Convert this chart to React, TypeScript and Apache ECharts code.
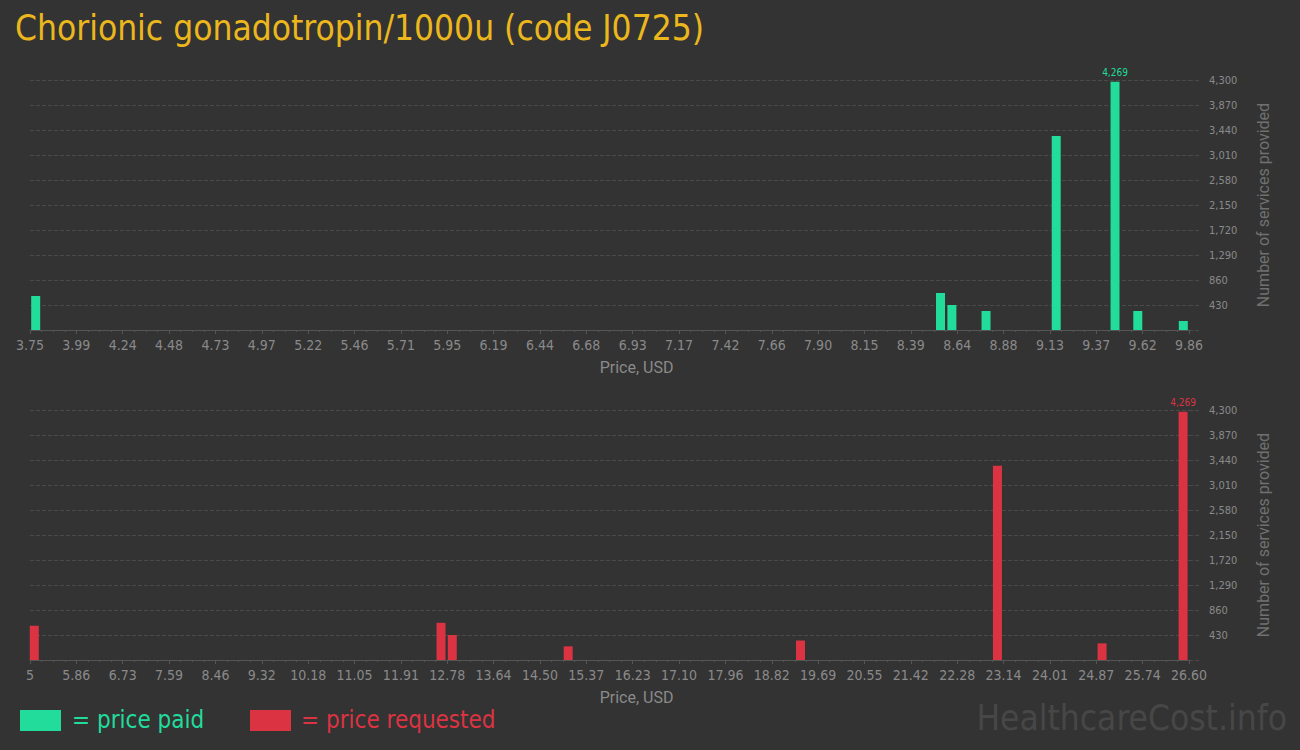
import { useEffect, useRef } from "react";
import * as echarts from "echarts";

const TITLE = "Chorionic gonadotropin/1000u (code J0725)";

const PAID_TICKS = [
  "3.75", "3.99", "4.24", "4.48", "4.73", "4.97", "5.22", "5.46", "5.71", "5.95", "6.19", "6.44", "6.68",
  "6.93", "7.17", "7.42", "7.66", "7.90", "8.15", "8.39", "8.64", "8.88", "9.13", "9.37", "9.62", "9.86",
];
const PAID_PRICES = [3.78, 8.55, 8.61, 8.79, 9.16, 9.47, 9.59, 9.83];
const PAID_COUNTS = [585, 636, 430, 327, 3337, 4269, 327, 155];

const REQ_TICKS = [
  "5", "5.86", "6.73", "7.59", "8.46", "9.32", "10.18", "11.05", "11.91", "12.78", "13.64", "14.50", "15.37",
  "16.23", "17.10", "17.96", "18.82", "19.69", "20.55", "21.42", "22.28", "23.14", "24.01", "24.87", "25.74", "26.60",
];
const REQ_PRICES = [5.08, 12.66, 12.87, 15.03, 19.36, 23.03, 24.98, 26.49];
const REQ_COUNTS = [587, 640, 430, 235, 335, 3340, 286, 4269];

const Y_MAX = 4300;
const Y_STEP = 430;

const BG = "#333333";
const GREEN = "#21dc9b";
const RED = "#dc3343";
const GOLD = "#ebb71d";
const MUTED = "#8a8a8a";
const GRIDLINE = "#4a4a4a";
const NARROW = "'Liberation Sans Narrow', 'DejaVu Sans Condensed', sans-serif";

const fmt = (v: number) => v.toLocaleString("en-US");

function xAxis(ticks: string[], gridIndex: number) {
  const min = Number(ticks[0]);
  const max = Number(ticks[ticks.length - 1]);
  const interval = (max - min) / (ticks.length - 1);
  return {
    type: "value" as const, gridIndex, min, max, interval,
    axisLine: { show: true, onZero: false, lineStyle: { color: "#555555", width: 1 } },
    axisTick: { show: true, length: 4, lineStyle: { color: "#555555" } },
    minorTick: { show: true, splitNumber: 4, length: 2, lineStyle: { color: "#555555" } },
    splitLine: { show: false },
    axisLabel: {
      color: MUTED, fontFamily: NARROW, fontSize: 14, margin: 8,
      showMinLabel: true, showMaxLabel: true,
      formatter: (v: number) => ticks[Math.round((v - min) / interval)] ?? "",
    },
    name: "Price, USD", nameLocation: "middle" as const, nameGap: 29,
    nameTextStyle: { color: MUTED, fontFamily: "Roboto", fontSize: 16, padding: [0, 0, 0, 54] },
  };
}

function yAxis(gridIndex: number) {
  return {
    type: "value" as const, gridIndex, position: "right" as const, min: 0, max: Y_MAX, interval: Y_STEP,
    axisLine: { show: false },
    axisTick: { show: true, length: 12, lineStyle: { color: GRIDLINE, type: "dashed" as const } },
    splitLine: { show: true, lineStyle: { color: GRIDLINE, type: "dashed" as const } },
    axisLabel: {
      color: MUTED, fontFamily: NARROW, fontSize: 11, margin: 20,
      formatter: (v: number) => (v === 0 ? "" : fmt(v)),
    },
    name: "Number of services provided", nameLocation: "middle" as const, nameRotate: 90, nameGap: 66,
    nameTextStyle: { color: "#707070", fontFamily: "Roboto", fontSize: 16 },
  };
}

function barSeries(prices: number[], counts: number[], color: string, idx: number) {
  const top = Math.max(...counts);
  return {
    type: "bar" as const, xAxisIndex: idx, yAxisIndex: idx, barWidth: 9,
    itemStyle: { color },
    data: prices.map((p, i) => ({
      value: [p, counts[i]],
      label: counts[i] === top
        ? { show: true, position: "top" as const, distance: 4, color, fontFamily: NARROW, fontSize: 10,
            formatter: () => fmt(counts[i]) }
        : { show: false },
    })),
  };
}

export default function App() {
  const ref = useRef<HTMLDivElement>(null);
  useEffect(() => {
    if (!ref.current) return;
    const chart = echarts.init(ref.current, null, { renderer: "svg" });
    chart.setOption({
      animation: false,
      backgroundColor: BG,
      grid: [
        { left: 30, right: 111, top: 80, height: 250 },
        { left: 30, right: 111, top: 410, height: 250 },
      ],
      xAxis: [xAxis(PAID_TICKS, 0), xAxis(REQ_TICKS, 1)],
      yAxis: [yAxis(0), yAxis(1)],
      series: [
        barSeries(PAID_PRICES, PAID_COUNTS, GREEN, 0),
        barSeries(REQ_PRICES, REQ_COUNTS, RED, 1),
      ],
      graphic: [
        { type: "text", left: 15, top: 10,
          style: { text: TITLE, fill: GOLD, font: `35px ${NARROW}` } },
        { type: "rect", shape: { x: 20, y: 710, width: 41, height: 21 }, style: { fill: GREEN } },
        { type: "text", x: 72, y: 720,
          style: { text: "= price paid", fill: GREEN, font: `24px ${NARROW}`, verticalAlign: "middle" } },
        { type: "rect", shape: { x: 250, y: 710, width: 41, height: 21 }, style: { fill: RED } },
        { type: "text", x: 301, y: 720,
          style: { text: "= price requested", fill: RED, font: `24px ${NARROW}`, verticalAlign: "middle" } },
        { type: "text", right: 13, top: 700,
          style: { text: "HealthcareCost.info", fill: "#474747", font: `35px ${NARROW}` } },
      ],
    });
    return () => chart.dispose();
  }, []);
  return (
    <div style={{ position: "fixed", left: 0, top: 0, width: 1300, height: 750, background: BG }}>
      <div ref={ref} style={{ width: 1300, height: 750 }} />
    </div>
  );
}
